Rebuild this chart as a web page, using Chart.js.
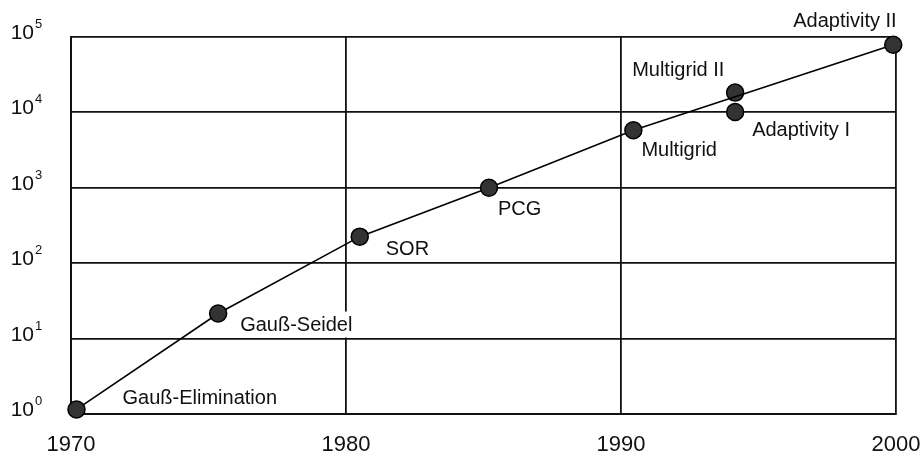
<!DOCTYPE html>
<html>
<head>
<meta charset="utf-8">
<script src="https://cdn.jsdelivr.net/npm/chart.js@4"></script>
<style>
  body { margin: 0; background: #fff; }
  #wrap { width: 920px; height: 455px; }
</style>
</head>
<body>
<div id="wrap"><canvas id="chart"></canvas></div>
<script>
// main line: method -> year of introduction and speed-up
const methods = ['Gauß-Elimination', 'Gauß-Seidel', 'SOR', 'PCG', 'Multigrid', 'Adaptivity II'];
const years = [1970.2, 1975.35, 1980.5, 1985.2, 1990.45, 1999.9];
const speedup = [1.15, 21.5, 225, 1000, 5800, 79000];

// two extra points that are not on the line
const extraMethods = ['Multigrid II', 'Adaptivity I'];
const extraYears = [1994.15, 1994.15];
const extraSpeedup = [18300, 10100];

const xTicks = [1970, 1980, 1990, 2000];
const yExponents = [0, 1, 2, 3, 4, 5];

// label placement relative to its point (px), and whether it hides what is behind
const labelPos = {
    'Gauß-Elimination': [46, -11, false],
    'Gauß-Seidel': [22, 12, true],
    'SOR': [26, 13, false],
    'PCG': [9, 22, false],
    'Multigrid': [8, 20, false],
    'Adaptivity II': [-100, -23, true],
    'Multigrid II': [-103, -22, false],
    'Adaptivity I': [17, 18, false]
};

const FONT = "'Liberation Sans', Arial, sans-serif";

const toPoints = (xs, ys) => xs.map((x, i) => ({x: x, y: ys[i]}));

const pointLabels = {
    id: 'pointLabels',
    beforeDatasetsDraw(chart) {
        const ctx = chart.ctx;
        ctx.save();
        ctx.font = '20px ' + FONT;
        ctx.textBaseline = 'middle';
        ctx.textAlign = 'left';
        chart.data.datasets.forEach((ds, di) => {
            const meta = chart.getDatasetMeta(di);
            meta.data.forEach((pt, i) => {
                const name = ds.names[i];
                const [dx, dy, box] = labelPos[name];
                const tx = pt.x + dx, ty = pt.y + dy;
                if (box) {
                    const w = ctx.measureText(name).width;
                    ctx.fillStyle = name === 'Adaptivity II' ? 'rgba(255,255,255,0.75)' : '#fff';
                    ctx.fillRect(tx - 10, ty - 14, w + 14, 26);
                }
                ctx.fillStyle = '#111';
                ctx.fillText(name, tx, ty);
            });
        });
        ctx.restore();
    }
};

const powerLabels = {
    id: 'powerLabels',
    afterDraw(chart) {
        const ctx = chart.ctx;
        const y = chart.scales.y;
        ctx.save();
        ctx.fillStyle = '#111';
        yExponents.forEach(e => {
            const py = y.getPixelForValue(Math.pow(10, e));
            ctx.font = '21px ' + FONT;
            ctx.textAlign = 'right';
            ctx.textBaseline = 'alphabetic';
            ctx.fillText('10', 34, py + 2);
            ctx.font = '13px ' + FONT;
            ctx.textAlign = 'left';
            ctx.fillText(String(e), 35, py - 9);
        });
        ctx.restore();
    }
};

new Chart(document.getElementById('chart'), {
    type: 'scatter',
    data: {
        datasets: [{
            names: methods,
            data: toPoints(years, speedup),
            showLine: true,
            clip: false,
            borderColor: '#000',
            borderWidth: 1.6,
            pointRadius: 8.5,
            pointBackgroundColor: '#333',
            pointBorderColor: '#000',
            pointBorderWidth: 1.5
        }, {
            names: extraMethods,
            data: toPoints(extraYears, extraSpeedup),
            showLine: false,
            clip: false,
            pointRadius: 8.5,
            pointBackgroundColor: '#333',
            pointBorderColor: '#000',
            pointBorderWidth: 1.5
        }]
    },
    options: {
        responsive: true,
        maintainAspectRatio: false,
        animation: false,
        events: [],
        layout: { padding: { top: 37, right: 24, left: 0, bottom: 0 } },
        plugins: { legend: { display: false }, tooltip: { enabled: false } },
        scales: {
            x: {
                type: 'linear',
                min: 1970,
                max: 2000,
                afterBuildTicks: s => { s.ticks = xTicks.map(v => ({value: v})); },
                afterFit: s => { s.height = 41; s.paddingLeft = 0; s.paddingRight = 0; },
                ticks: {
                    color: '#111',
                    font: { family: FONT, size: 22 },
                    padding: 18,
                    maxRotation: 0,
                    callback: v => String(v)
                },
                grid: { color: '#111', lineWidth: 1.8, drawTicks: false },
                border: { color: '#111', width: 2 }
            },
            y: {
                type: 'logarithmic',
                min: 1,
                max: 100000,
                afterBuildTicks: s => { s.ticks = yExponents.map(e => ({value: Math.pow(10, e)})); },
                afterFit: s => { s.width = 71; s.paddingTop = 0; s.paddingBottom = 0; },
                ticks: { display: false },
                grid: { color: '#111', lineWidth: 1.8, drawTicks: false },
                border: { color: '#111', width: 2 }
            }
        }
    },
    plugins: [pointLabels, powerLabels]
});
</script>
</body>
</html>
